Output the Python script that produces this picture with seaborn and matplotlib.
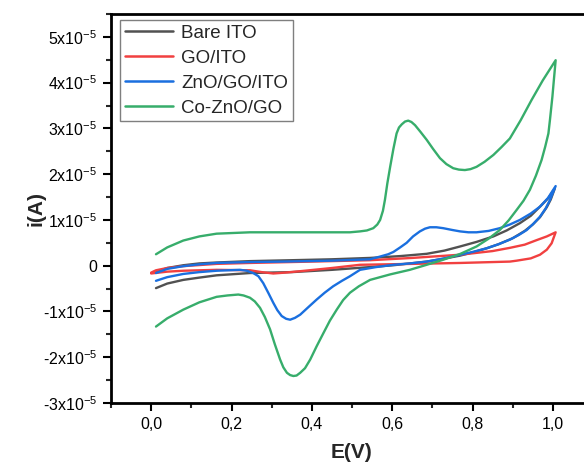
import numpy as np
import pandas as pd
import matplotlib
matplotlib.use("Agg")
import matplotlib.pyplot as plt
import seaborn as sns
from matplotlib.ticker import MultipleLocator

# ---------------- data (E in V, I in units of 1e-5 A) ----------------
series_names = ["Bare ITO", "GO/ITO", "ZnO/GO/ITO", "Co-ZnO/GO"]
colors = ["#515151", "#F14040", "#1A6FDF", "#37AD6B"]

bare_E = [0.012, 0.04, 0.08, 0.12, 0.163, 0.246, 0.35, 0.45, 0.545, 0.62, 0.686, 0.73, 0.769,
          0.81, 0.852, 0.885, 0.918, 0.945, 0.968, 0.988, 1.005,
          0.995, 0.985, 0.968, 0.95, 0.93, 0.90, 0.865, 0.835, 0.80, 0.769, 0.72, 0.686, 0.603,
          0.545, 0.45, 0.35, 0.246, 0.163, 0.12, 0.08, 0.04, 0.012]
bare_I = [-0.14, -0.05, 0.01, 0.05, 0.07, 0.10, 0.12, 0.14, 0.17, 0.21, 0.26, 0.33, 0.42,
          0.52, 0.64, 0.77, 0.93, 1.09, 1.29, 1.47, 1.69,
          1.45, 1.28, 1.06, 0.90, 0.76, 0.60, 0.47, 0.38, 0.29, 0.22, 0.14, 0.09, 0.01,
          -0.03, -0.09, -0.14, -0.16, -0.21, -0.26, -0.31, -0.39, -0.49]

go_E = [0.0, 0.012, 0.04, 0.08, 0.163, 0.246, 0.40, 0.545, 0.65, 0.769, 0.85, 0.893, 0.93, 0.96,
        0.985, 1.007,
        0.997, 0.985, 0.968, 0.945, 0.91, 0.893, 0.769, 0.65, 0.52, 0.45, 0.371, 0.335, 0.304,
        0.275, 0.246, 0.163, 0.08, 0.04, 0.0]
go_I = [-0.15, -0.10, -0.05, -0.01, 0.04, 0.06, 0.09, 0.12, 0.17, 0.24, 0.32, 0.39, 0.46, 0.56,
        0.64, 0.73,
        0.49, 0.35, 0.24, 0.16, 0.11, 0.09, 0.06, 0.04, 0.02, -0.05, -0.12, -0.15, -0.17,
        -0.14, -0.10, -0.09, -0.11, -0.13, -0.17]

zno_E = [0.012, 0.04, 0.08, 0.12, 0.163, 0.246, 0.329, 0.45, 0.545, 0.570, 0.590, 0.603, 0.620,
         0.636, 0.652, 0.669, 0.682, 0.694, 0.710, 0.727, 0.750, 0.769, 0.790, 0.810, 0.840,
         0.868, 0.893, 0.918, 0.945, 0.968, 0.988, 1.007,
         0.993, 0.982, 0.968, 0.952, 0.935, 0.915, 0.893, 0.865, 0.835, 0.80, 0.769, 0.73,
         0.686, 0.645, 0.603, 0.56, 0.52, 0.495, 0.475, 0.453, 0.432, 0.412, 0.392, 0.371,
         0.358, 0.346, 0.336, 0.325, 0.314, 0.304, 0.292, 0.279, 0.267, 0.254, 0.238, 0.221,
         0.163, 0.12, 0.08, 0.04, 0.012]
zno_I = [-0.16, -0.07, -0.01, 0.03, 0.06, 0.08, 0.09, 0.11, 0.14, 0.20, 0.25, 0.30, 0.40,
         0.50, 0.64, 0.75, 0.81, 0.84, 0.84, 0.82, 0.78, 0.75, 0.73, 0.73, 0.76,
         0.82, 0.90, 1.00, 1.14, 1.29, 1.48, 1.74,
         1.44, 1.25, 1.07, 0.92, 0.78, 0.67, 0.57, 0.47, 0.38, 0.30, 0.24, 0.16,
         0.09, 0.05, 0.02, -0.03, -0.09, -0.23, -0.33, -0.45, -0.59, -0.74, -0.90, -1.07,
         -1.14, -1.18, -1.16, -1.10, -0.97, -0.81, -0.60, -0.38, -0.23, -0.16, -0.11, -0.09,
         -0.11, -0.14, -0.18, -0.25, -0.33]

co_E = [0.012, 0.04, 0.08, 0.12, 0.163, 0.246, 0.371, 0.495, 0.52, 0.537, 0.553, 0.563, 0.570,
        0.577, 0.582, 0.588, 0.595, 0.603, 0.611, 0.617, 0.624, 0.632, 0.640, 0.648, 0.657,
        0.670, 0.686, 0.702, 0.719, 0.735, 0.752, 0.766, 0.781, 0.795, 0.810, 0.830, 0.852,
        0.872, 0.893, 0.92, 0.947, 0.975, 1.007,
        1.003, 0.999, 0.993, 0.989, 0.981, 0.972, 0.958, 0.943, 0.927, 0.910, 0.890, 0.868,
        0.840, 0.810, 0.770, 0.727, 0.686, 0.644, 0.595, 0.545, 0.517, 0.495, 0.478, 0.462,
        0.445, 0.429, 0.412, 0.396, 0.383, 0.371, 0.362, 0.354, 0.346, 0.338, 0.329, 0.321,
        0.308, 0.296, 0.283, 0.271, 0.258, 0.246, 0.230, 0.217, 0.19, 0.163, 0.12, 0.08,
        0.04, 0.012]
co_I = [0.25, 0.40, 0.55, 0.64, 0.70, 0.73, 0.73, 0.73, 0.75, 0.77, 0.82, 0.90, 1.0,
        1.2, 1.44, 1.8, 2.16, 2.55, 2.89, 3.02, 3.09, 3.15, 3.17, 3.14, 3.07,
        2.93, 2.75, 2.55, 2.35, 2.22, 2.13, 2.10, 2.09, 2.11, 2.16, 2.27, 2.42,
        2.59, 2.78, 3.18, 3.62, 4.05, 4.49,
        4.1, 3.7, 3.2, 2.89, 2.6, 2.31, 1.97, 1.66, 1.42, 1.22, 0.99, 0.78,
        0.59, 0.42, 0.26, 0.13, 0.02, -0.09, -0.19, -0.31, -0.45, -0.59, -0.75, -0.96,
        -1.2, -1.47, -1.76, -2.05, -2.24, -2.34, -2.40, -2.41, -2.39, -2.34, -2.22, -2.05,
        -1.72, -1.39, -1.12, -0.92, -0.78, -0.70, -0.65, -0.63, -0.65, -0.68, -0.80, -0.96,
        -1.15, -1.33]

x_ticks = [0.0, 0.2, 0.4, 0.6, 0.8, 1.0]
x_tick_labels = ["0,0", "0,2", "0,4", "0,6", "0,8", "1,0"]
y_tick_exps = [-3, -2, -1, 0, 1, 2, 3, 4, 5]

# ---------------- build table ----------------
frames = []
for name, E, I in zip(series_names, [bare_E, go_E, zno_E, co_E], [bare_I, go_I, zno_I, co_I]):
    frames.append(pd.DataFrame({"E": E, "I": np.array(I) * 1e-5, "series": name}))
df = pd.concat(frames, ignore_index=True)

# ---------------- style ----------------
sns.set_style("ticks")
plt.rcParams["font.family"] = ["Liberation Sans", "DejaVu Sans"]
plt.rcParams["mathtext.fontset"] = "custom"
plt.rcParams["mathtext.rm"] = "Liberation Sans"
plt.rcParams["mathtext.default"] = "regular"

W, H = 584, 462
fig = plt.figure(figsize=(W / 100, H / 100), dpi=100)
ax = fig.add_axes([111 / W, 59 / H, 482 / W, 389 / H])

sns.lineplot(data=df, x="E", y="I", hue="series", hue_order=series_names,
             palette=colors, sort=False, estimator=None, linewidth=1.7, ax=ax)

ax.set_xlim(-0.1, 1.1)
ax.set_ylim(-3e-5, 5.5e-5)

ax.set_xticks(x_ticks)
ax.set_xticklabels(x_tick_labels)
ax.xaxis.set_minor_locator(MultipleLocator(0.1))
ax.set_yticks([k * 1e-5 for k in y_tick_exps])
ax.set_yticklabels(["0" if k == 0 else f"{k}x10$^{{-5}}$" for k in y_tick_exps])
ax.yaxis.set_minor_locator(MultipleLocator(0.5e-5))

ax.tick_params(axis="both", which="major", direction="out", length=6, width=1.5,
               labelsize=11.5, colors="black", pad=4)
ax.tick_params(axis="both", which="minor", direction="out", length=3.5, width=1.5)
ax.tick_params(top=False, right=False, which="both")
for s in ax.spines.values():
    s.set_linewidth(2.0)
    s.set_color("black")

ax.set_xlabel("E(V)", fontsize=15, fontweight="bold", labelpad=8)
ax.set_ylabel("i(A)", fontsize=15, fontweight="bold", labelpad=-2)

handles, labels = ax.get_legend_handles_labels()
leg = ax.legend(handles, labels, loc="upper left", bbox_to_anchor=(0.0187, 0.985),
                borderaxespad=0, fontsize=13.5, frameon=True, fancybox=False,
                framealpha=1, edgecolor="#7f7f7f", handlelength=2.6,
                handletextpad=0.4, labelspacing=0.42, borderpad=0.25)
leg.get_frame().set_linewidth(1.0)
for line in leg.get_lines():
    line.set_linewidth(1.8)

fig.savefig("out.png", dpi=100)
